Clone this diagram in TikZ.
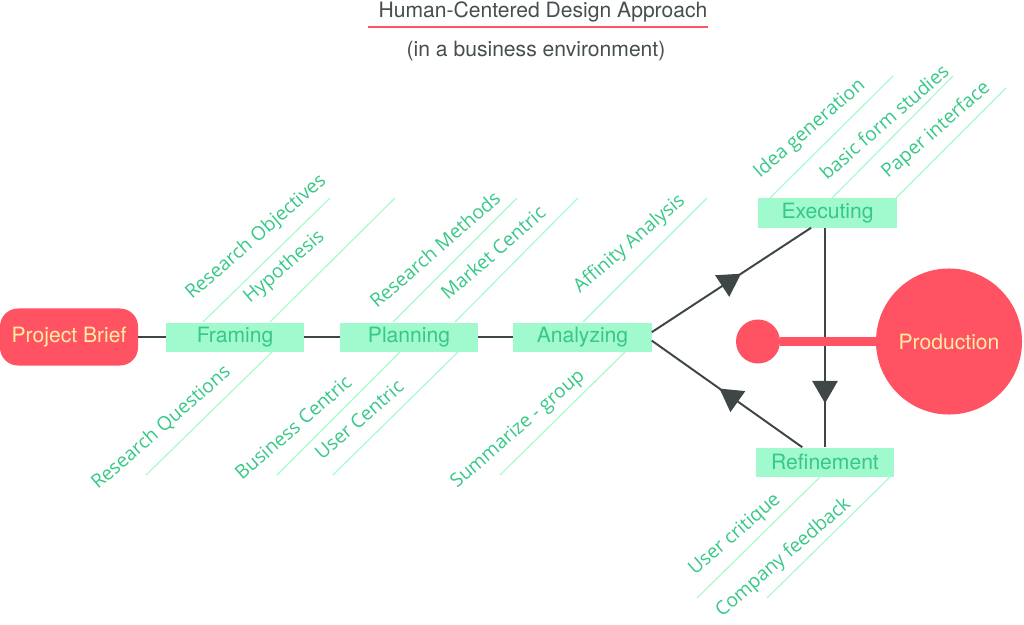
\documentclass[tikz,border=0pt]{standalone}
\usepackage{fontspec}
\setmainfont{TeX Gyre Heros}
\newfontfamily\leaffont{Open Sans}
\usetikzlibrary{arrows.meta, decorations.markings}
\definecolor{mint}{RGB}{160,250,205}
\definecolor{leafgreen}{RGB}{55,200,135}
\definecolor{leafline}{RGB}{165,250,205}
\definecolor{coral}{RGB}{255,83,100}
\definecolor{cream}{RGB}{255,238,160}
\definecolor{slate}{RGB}{62,70,72}
\definecolor{titlegray}{RGB}{70,78,80}

\begin{document}
\begin{tikzpicture}[x=0.025cm, y=-0.025cm,
  stage/.style={fill=mint, text=leafgreen, minimum width=3.45cm, minimum height=0.725cm, inner sep=0pt, font=\fontsize{15}{18}\selectfont},
  tag/.style={rotate=41, anchor=base west, inner sep=0pt, text=leafgreen, font=\leaffont\fontsize{13.6}{16}\selectfont},
  twig/.style={draw=leafline, line width=0.8pt},
  flow/.style={draw, color=slate, line width=1.4pt},
  blob/.style={circle, fill=coral, inner sep=0pt},
  midarrow/.style={postaction={decorate, decoration={markings, mark=at position #1 with {\arrow{Triangle[length=16pt, width=18pt]}}}}}
]
\useasboundingbox (0,0) rectangle (1024,624);

\node[font=\fontsize{15}{18}\selectfont, text=titlegray, anchor=base] (title) at (543,18) {Human-Centered Design Approach};
\draw[coral, line width=1.1pt] (368,27) -- (708,27);
\node[font=\fontsize{15}{18}\selectfont, text=titlegray, anchor=base] (subtitle) at (536,57) {(in a business environment)};

\draw[twig] (203,322) -- (330,198);
\draw[twig] (270,322) -- (395,198);
\draw[twig] (146,475) -- (273,351);
\draw[twig] (393,322) -- (517,198);
\draw[twig] (455,322) -- (578,198);
\draw[twig] (277,475) -- (400,352);
\draw[twig] (333,475) -- (458,352);
\draw[twig] (583,322) -- (707,198);
\draw[twig] (500,475) -- (625,352);
\draw[twig] (770,198) -- (893,76);
\draw[twig] (832,198) -- (953,76);
\draw[twig] (896,198) -- (1006,88);
\draw[twig] (697,598) -- (820,477);
\draw[twig] (767,598) -- (890,477);

\node[fill=coral, rounded corners=0.45cm, minimum width=3.45cm, minimum height=1.425cm, text=cream, font=\fontsize{15}{18}\selectfont] (brief) at (69,337) {Project Brief};
\node[stage] (framing) at (235,337) {Framing};
\node[stage] (planning) at (409,337) {Planning};
\node[stage] (analyzing) at (582.5,337) {Analyzing};
\node[stage] (executing) at (827.5,213) {Executing};
\node[stage] (refinement) at (825,462) {Refinement};

\node[tag] (objectives) at (192,300) {Research Objectives};
\node[tag] (hypothesis) at (250,304) {Hypothesis};
\node[tag] (questions) at (98,490) {Research Questions};
\node[tag] (methods) at (377,309) {Research Methods};
\node[tag] (market) at (448,301) {Market Centric};
\node[tag] (business) at (242,481) {Business Centric};
\node[tag] (user) at (322,461) {User Centric};
\node[tag] (affinity) at (580,294) {Affinity Analysis};
\node[tag] (summarize) at (457,489) {Summarize - group};
\node[tag] (idea) at (760,179) {Idea generation};
\node[tag] (form) at (827,181) {basic form studies};
\node[tag] (paper) at (888,179) {Paper interface};
\node[tag] (critique) at (695,576) {User critique};
\node[tag] (company) at (722,618) {Company feedback};

\draw[flow] (brief) -- (framing);
\draw[flow] (framing) -- (planning);
\draw[flow] (planning) -- (analyzing);
\draw[flow, midarrow=0.56] (analyzing.4) -- (executing.-138);
\draw[flow, midarrow=0.55] (refinement.147) -- (analyzing.-3);
\draw[flow, midarrow=0.8] (refinement.north |- executing.south) -- (refinement.north);

\node[blob, minimum size=1.1cm] (dot) at (758,341.5) {};
\node[blob, minimum size=3.65cm, text=cream, font=\fontsize{15}{18}\selectfont] (production) at (949,341.5) {Production};
\draw[coral, line width=5.7pt] (dot) -- (production);
\end{tikzpicture}
\end{document}
